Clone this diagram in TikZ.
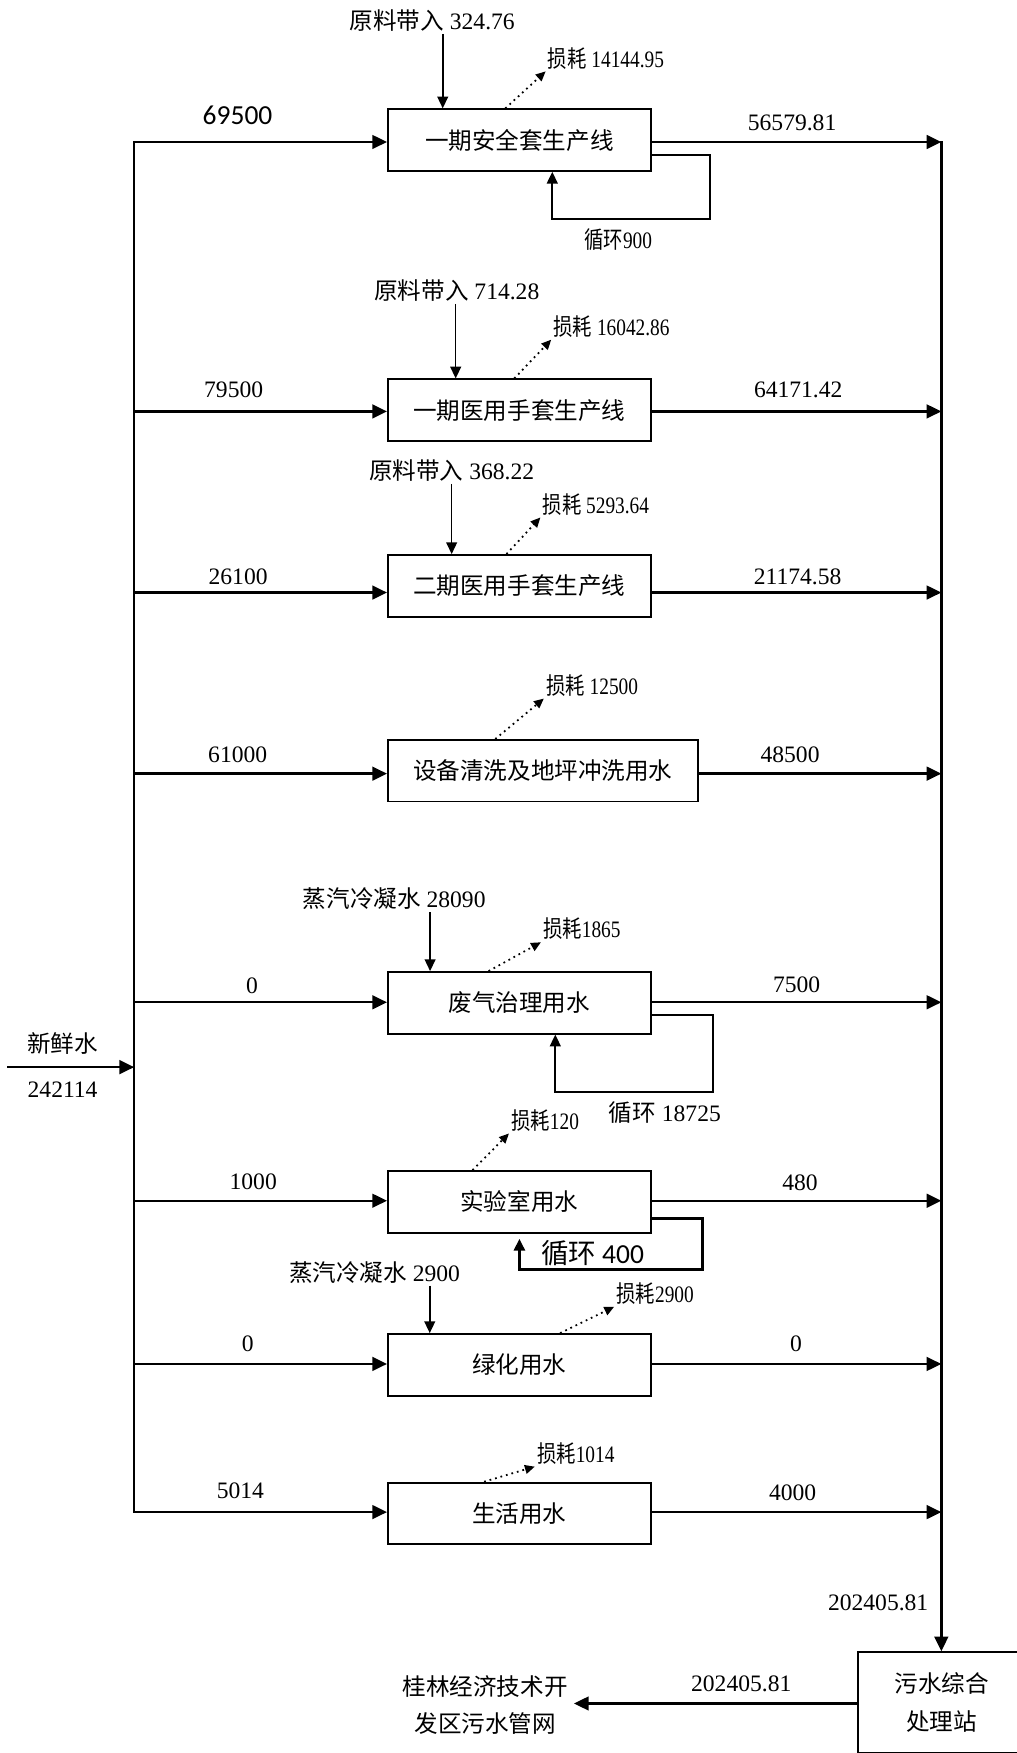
\documentclass[tikz,border=0pt]{standalone}
\usepackage{fontspec}
\setmainfont{Liberation Serif}
\newfontfamily\zhfont{Noto Sans CJK SC}
\newfontfamily\zhcond[FakeStretch=0.82]{Noto Sans CJK SC}
\newfontfamily\numcond[FakeStretch=0.82]{Liberation Serif}
\newfontfamily\calib{Carlito}
\usetikzlibrary{arrows.meta, calc}
\newcommand{\zh}[1]{{\zhfont #1}}
\newcommand{\zhc}[1]{{\zhcond #1}}
\tikzset{
    gongxu/.style={draw, line width=1pt, minimum width=4.7cm, minimum height=1.1cm, inner sep=0pt, font=\fontsize{12}{14}\selectfont\zhfont},
    biaozhu/.style={inner sep=1pt, font=\fontsize{12}{14}\selectfont},
    sunhao/.style={inner sep=1pt, font=\fontsize{12}{14}\selectfont\numcond},
    dazi/.style={inner sep=1pt, font=\fontsize{14}{16}\selectfont\calib},
    liu/.style={line width=1.2pt, line cap=rect, -{Triangle[length=7.5pt, width=7pt]}},
    daru/.style={line width=0.8pt, -{Triangle[length=6pt, width=5.5pt]}},
    xunhuan/.style={line width=1pt, -{Triangle[length=6pt, width=5.5pt]}},
    haosun/.style={line width=0.9pt, dotted, -{Triangle[length=5pt, width=4.5pt]}},
}

\begin{document}
\begin{tikzpicture}[x=0.02cm, y=-0.02cm]
\useasboundingbox (0,0) rectangle (909,1568);
% Row 1: 一期安全套生产线
\node[gongxu] (b1) at (464.5,125.3) {一期安全套生产线};
\node[biaozhu] (yl1) at (386.6,18.5) {\zh{原料带入} 324.76};
\draw[daru] (yl1.south -| 396,0) -- (b1.north -| 396,0);
\node[sunhao] (sh1) at (542,52) {\zhc{损耗} 14144.95};
\draw[haosun] (b1.north -| 452,0) -- (sh1.south west);
\node[dazi] (q1) at (212.5,103) {69500};
\node[biaozhu] (c1) at (708.5,110) {56579.81};
\draw[xunhuan] (b1.east |- 0,139) -| (635,196) -| (b1.south -| 494,0);
\node[sunhao] (xh1) at (553,214) {\zhc{循环}900};
% Row 2: 一期医用手套生产线
\node[gongxu] (b2) at (464.5,366.9) {一期医用手套生产线};
\node[biaozhu] (yl2) at (408.6,260) {\zh{原料带入} 714.28};
\draw[daru] (yl2.south -| 407.6,0) -- (b2.north -| 407.6,0);
\node[sunhao] (sh2) at (547,292) {\zhc{损耗} 16042.86};
\draw[haosun] (b2.north -| 460,0) -- (sh2.south west);
\node[biaozhu] (q2) at (209,349) {79500};
\node[biaozhu] (c2) at (714,349) {64171.42};
% Row 3: 二期医用手套生产线
\node[gongxu] (b3) at (464.5,524) {二期医用手套生产线};
\node[biaozhu] (yl3) at (404,421) {\zh{原料带入} 368.22};
\draw[daru] (yl3.south -| 404,0) -- (b3.north -| 404,0);
\node[sunhao] (sh3) at (533,451) {\zhc{损耗} 5293.64};
\draw[haosun] (b3.north -| 453,0) -- (sh3.south west);
\node[biaozhu] (q3) at (213,516) {26100};
\node[biaozhu] (c3) at (713.5,516) {21174.58};
% Row 4: 设备清洗及地坪冲洗用水
\node[gongxu, minimum width=5.54cm] (b4) at (485.5,689.4) {设备清洗及地坪冲洗用水};
\node[sunhao] (sh4) at (529.6,613) {\zhc{损耗} 12500};
\draw[haosun] (b4.north -| 443,0) -- (sh4.south west);
\node[biaozhu] (q4) at (212.6,675.5) {61000};
\node[biaozhu] (c4) at (706.7,675.5) {48500};
% Row 5: 废气治理用水
\node[gongxu] (b5) at (464.5,897) {废气治理用水};
\node[biaozhu] (yl5) at (352.6,804) {\zh{蒸汽冷凝水} 28090};
\draw[daru] (yl5.south -| 384.7,0) -- (b5.north -| 384.7,0);
\node[sunhao] (sh5) at (520.5,831) {\zhc{损耗}1865};
\draw[haosun] (b5.north -| 437,0) -- (sh5.south west);
\node[biaozhu] (q5) at (225.5,882) {0};
\node[biaozhu] (c5) at (712.5,881) {7500};
\draw[xunhuan] (b5.east |- 0,908) -| (638,977) -| (b5.south -| 496.7,0);
\node[biaozhu] (xh5) at (594.7,995) {\zh{循环} 18725};
% 新鲜水
\node[biaozhu] (xs) at (56,933) {\zh{新鲜水}};
\node[biaozhu] (xsl) at (56,975) {242114};
% Row 6: 实验室用水
\node[gongxu] (b6) at (464.5,1075) {实验室用水};
\node[sunhao] (sh6) at (487.6,1002) {\zhc{损耗}120};
\draw[haosun] (b6.north -| 422.6,0) -- (sh6.south west);
\node[biaozhu] (q6) at (226.5,1057) {1000};
\node[biaozhu] (c6) at (715.5,1058) {480};
\coordinate (x6) at (464.6,1108);
\draw[xunhuan, line width=1.5pt] (b6.east |- 0,1089.5) -| (628,1135.7) -| (x6);
\node[dazi] (xh6) at (530,1121) {\zh{循环} 400};
% Row 7: 绿化用水
\node[gongxu] (b7) at (464.5,1220.8) {绿化用水};
\node[biaozhu] (yl7) at (335,1138) {\zh{蒸汽冷凝水} 2900};
\draw[daru] (yl7.south -| 384.4,0) -- (b7.north -| 384.4,0);
\node[sunhao] (sh7) at (586,1157) {\zhc{损耗}2900};
\draw[haosun] (b7.north -| 501,0) -- (sh7.south west);
\node[biaozhu] (q7) at (221.6,1202) {0};
\node[biaozhu] (c7) at (712,1202) {0};
% Row 8: 生活用水
\node[gongxu] (b8) at (464.5,1353.7) {生活用水};
\node[sunhao] (sh8) at (515,1300) {\zhc{损耗}1014};
\draw[haosun] (b8.north -| 433,0) -- (sh8.south west);
\node[biaozhu] (q8) at (215,1333) {5014};
\node[biaozhu] (c8) at (709,1335) {4000};
% trunk and collector
\coordinate (hj) at (842,0);
\foreach \i/\y in {1/127,2/368,3/530,4/692,5/896.5,6/1074,7/1220,8/1352.5} {
    \coordinate (t\i) at (120,\y);
    \draw[liu] (t\i) -- (t\i -| b\i.west);
    \draw[liu] (t\i -| b\i.east) -- (t\i -| hj);
}
\draw[line width=1.2pt, line cap=rect] (t1) -- (t8);
\coordinate (xs0) at (7,954.5);
\draw[liu] (xs0) -- (xs0 -| t1);
% 污水综合处理站
\node[draw, line width=1pt, anchor=north west, minimum width=3cm, minimum height=1.8cm, align=center, font=\fontsize{12}{19}\selectfont\zhfont] (ws) at (766.5,1477) {污水综合\\处理站};
\draw[liu] (t1 -| hj) -- (ws.north -| hj);
\node[biaozhu] (hjl) at (785.5,1434) {202405.81};
\node[inner sep=3pt, align=center, font=\fontsize{12}{19}\selectfont\zhfont] (gw) at (434,1525) {桂林经济技术开\\发区污水管网};
\draw[liu] (ws.west |- 0,1523.7) -- (gw.east |- 0,1523.7);
\node[biaozhu] (zl) at (663,1506) {202405.81};
\end{tikzpicture}
\end{document}
